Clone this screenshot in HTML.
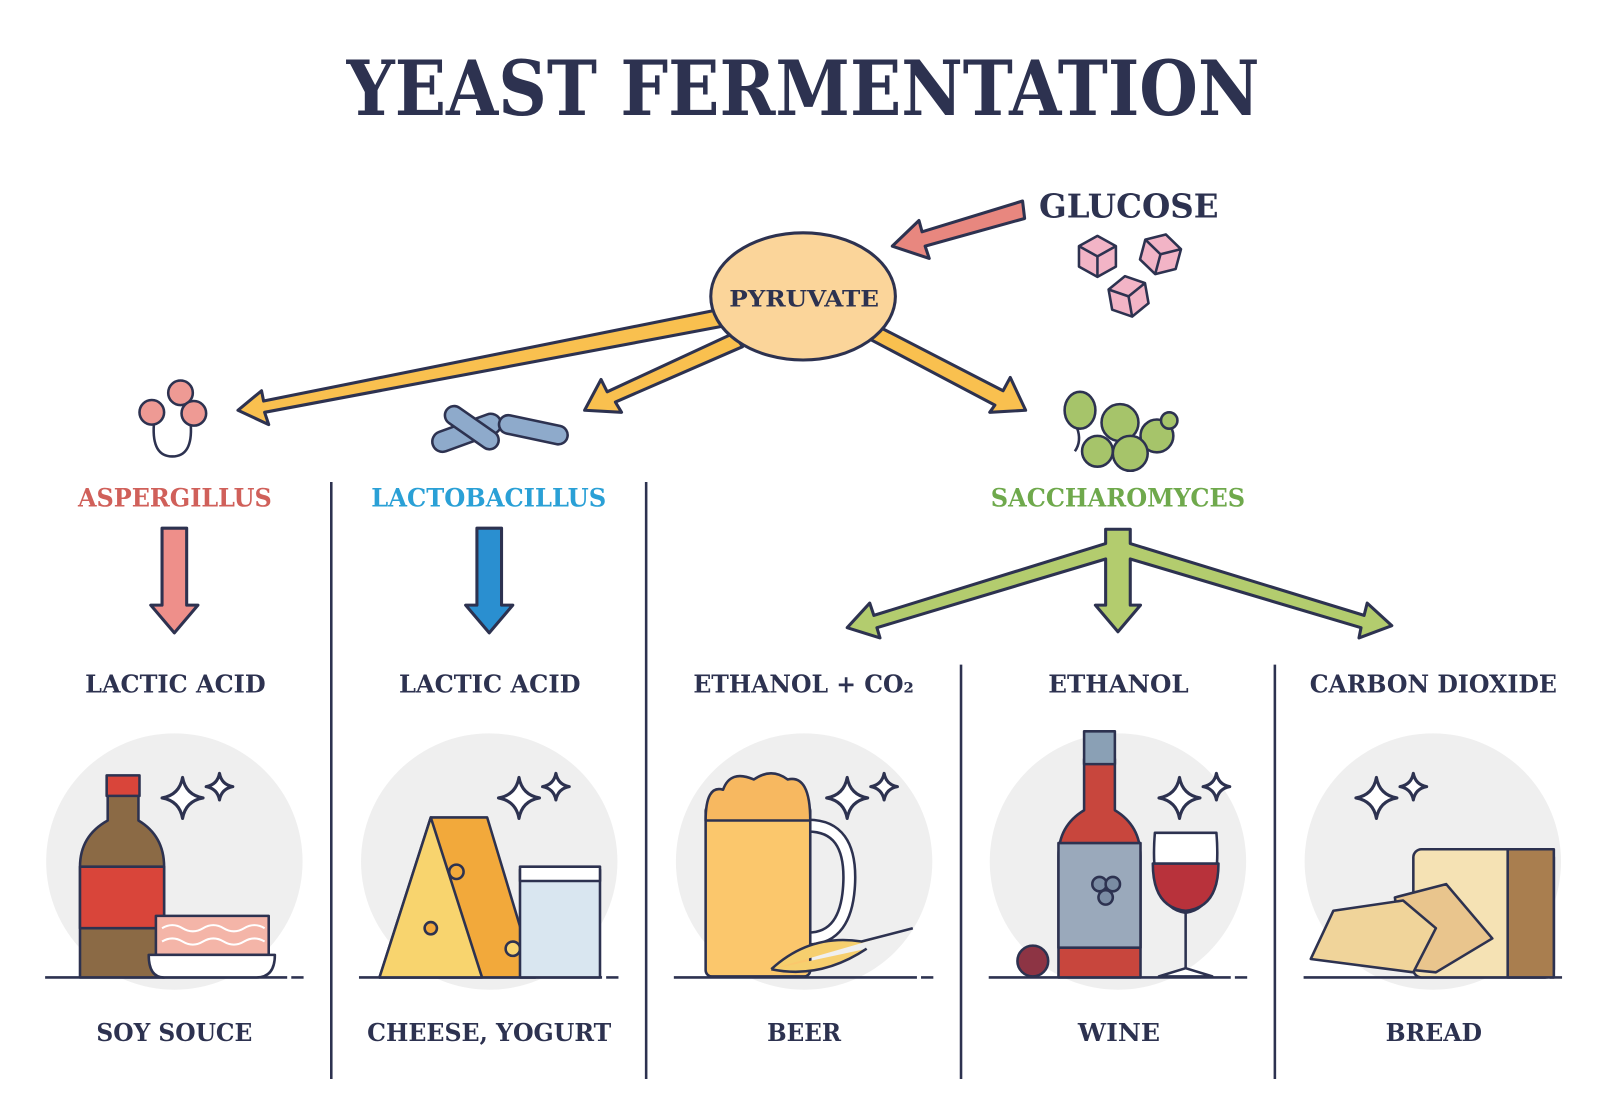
<!DOCTYPE html>
<html><head><meta charset="utf-8"><style>
html,body{margin:0;padding:0;background:#fff;}
svg{display:block;}
text{font-family:"DejaVu Serif","Liberation Serif",serif;font-weight:bold;fill:#2d3250;}
</style></head><body>
<svg width="1600" height="1120" viewBox="0 0 1560 1092" preserveAspectRatio="none" xmlns="http://www.w3.org/2000/svg">
<defs>
<g id="spark"><path d="M0,-20 Q3,-3 20,0 Q3,3 0,20 Q-3,3 -20,0 Q-3,-3 0,-20Z" fill="#fff" stroke="#2d3250" stroke-width="3" stroke-linejoin="round"/></g>
<g id="spark2"><path d="M0,-13 Q2,-2 13,0 Q2,2 0,13 Q-2,2 -13,0 Q-2,-2 0,-13Z" fill="#fff" stroke="#2d3250" stroke-width="3" stroke-linejoin="round"/></g>
</defs>
<rect width="1560" height="1092" fill="#fff"/>
<text x="338" y="112" font-size="74" textLength="890" lengthAdjust="spacingAndGlyphs">YEAST FERMENTATION</text>

<!-- dividers -->
<g stroke="#2d3250" stroke-width="2.5">
<line x1="323" y1="470" x2="323" y2="1052"/>
<line x1="630" y1="470" x2="630" y2="1052"/>
<line x1="937" y1="648" x2="937" y2="1052"/>
<line x1="1243" y1="648" x2="1243" y2="1052"/>
</g>

<!-- glucose arrow -->
<g stroke="#2d3250" stroke-width="3" stroke-linejoin="round">
<polygon points="997,196 999,213 902,240 906,252 870,240 896,215 899,226" fill="#e8877f"/>
</g>
<!-- pyruvate arrows -->
<g stroke="#2d3250" stroke-width="3" stroke-linejoin="round" fill="#f9c04f">
<polygon points="700,302 705,318 258,402 262,414 232,400 255,381 257,391"/>
<polygon points="715,325 724,338 600,392 606,402 570,400 586,370 592,382"/>
<polygon points="850,315 843,328 970,395 965,402 1000,400 985,368 978,381"/>
</g>
<ellipse cx="783" cy="289" rx="90" ry="62" fill="#fbd59a" stroke="#2d3250" stroke-width="3"/>
<text x="711" y="299" font-size="22" textLength="146" lengthAdjust="spacingAndGlyphs">PYRUVATE</text>
<text x="1013" y="212" font-size="32" textLength="175" lengthAdjust="spacingAndGlyphs">GLUCOSE</text>

<!-- cubes -->
<g stroke="#2d3250" stroke-width="2.5" stroke-linejoin="round">
<g transform="translate(1070,248)"><polygon points="-18,-8 0,-18 18,-8 18,12 0,22 -18,12" fill="#f2b4c6"/><polyline points="-18,-8 0,2 18,-8 M0,2" fill="none"/><line x1="0" y1="2" x2="0" y2="22"/></g>
<g transform="translate(1132,246) rotate(15)"><polygon points="-18,-8 0,-18 18,-8 18,12 0,22 -18,12" fill="#f2b4c6"/><polyline points="-18,-8 0,2 18,-8" fill="none"/><line x1="0" y1="2" x2="0" y2="22"/></g>
<g transform="translate(1100,287) rotate(-10)"><polygon points="-18,-8 0,-18 18,-8 18,12 0,22 -18,12" fill="#f2b4c6"/><polyline points="-18,-8 0,2 18,-8" fill="none"/><line x1="0" y1="2" x2="0" y2="22"/></g>
</g>

<!-- microbes -->
<g stroke="#2d3250" stroke-width="2.5">
<path d="M150,414 Q148,445 168,445 Q188,445 186,414" fill="none"/>
<circle cx="148" cy="402" r="12" fill="#ee9a94"/>
<circle cx="176" cy="383" r="12" fill="#ee9a94"/>
<circle cx="189" cy="403" r="12" fill="#ee9a94"/>
<rect x="420" y="412" width="70" height="20" rx="10" fill="#8eaacb" transform="rotate(-20 455 422)"/>
<rect x="430" y="408" width="60" height="18" rx="9" fill="#8eaacb" transform="rotate(35 460 417)"/>
<rect x="486" y="410" width="68" height="18" rx="9" fill="#8eaacb" transform="rotate(12 520 419)"/>
<ellipse cx="1053" cy="400" rx="15" ry="18" fill="#a6c46a"/>
<path d="M1050,417 Q1055,430 1048,440" fill="none"/>
<circle cx="1092" cy="412" r="18" fill="#a6c46a"/>
<circle cx="1128" cy="425" r="16" fill="#a6c46a"/>
<circle cx="1070" cy="440" r="15" fill="#a6c46a"/>
<circle cx="1102" cy="442" r="17" fill="#a6c46a"/>
<circle cx="1140" cy="410" r="8" fill="#a6c46a"/>
</g>

<text x="76" y="494" font-size="25" textLength="189" lengthAdjust="spacingAndGlyphs" style="fill:#d0605a">ASPERGILLUS</text>
<text x="362" y="494" font-size="25" textLength="229" lengthAdjust="spacingAndGlyphs" style="fill:#2aa0d6">LACTOBACILLUS</text>
<text x="966" y="494" font-size="25" textLength="248" lengthAdjust="spacingAndGlyphs" style="fill:#6fa94c">SACCHAROMYCES</text>

<!-- down arrows -->
<g stroke="#2d3250" stroke-width="3" stroke-linejoin="round">
<polygon points="158,515 182,515 182,590 193,590 170,617 147,590 158,590" fill="#ee8f8a"/>
<polygon points="465,515 489,515 489,590 500,590 477,617 454,590 465,590" fill="#2a8fd0"/>
</g>
<!-- green arrows -->
<g stroke="#2d3250" stroke-width="3" stroke-linejoin="round" fill="#b3cc6e">
<polygon points="1078,516 1102,516 1102,530 1330,600 1333,588 1357,610 1325,622 1327,612 1102,545 1102,590 1112,590 1090,616 1068,590 1078,590 1078,545 855,612 858,622 826,612 848,588 852,600 1078,530"/>
</g>

<g font-size="24">
<text x="83" y="675" font-size="24" textLength="176" lengthAdjust="spacingAndGlyphs">LACTIC ACID</text>
<text x="389" y="675" font-size="24" textLength="177" lengthAdjust="spacingAndGlyphs">LACTIC ACID</text>
<text x="676" y="675" font-size="24" textLength="215" lengthAdjust="spacingAndGlyphs">ETHANOL + CO₂</text>
<text x="1022" y="675" font-size="24" textLength="137" lengthAdjust="spacingAndGlyphs">ETHANOL</text>
<text x="1277" y="675" font-size="24" textLength="241" lengthAdjust="spacingAndGlyphs">CARBON DIOXIDE</text>
<text x="94" y="1015" font-size="24" textLength="152" lengthAdjust="spacingAndGlyphs">SOY SOUCE</text>
<text x="358" y="1015" font-size="24" textLength="238" lengthAdjust="spacingAndGlyphs">CHEESE, YOGURT</text>
<text x="748" y="1015" font-size="24" textLength="72" lengthAdjust="spacingAndGlyphs">BEER</text>
<text x="1051" y="1015" font-size="24" textLength="80" lengthAdjust="spacingAndGlyphs">WINE</text>
<text x="1351" y="1015" font-size="24" textLength="94" lengthAdjust="spacingAndGlyphs">BREAD</text>
</g>

<!-- circles -->
<g fill="#efefef">
<circle cx="170" cy="840" r="125"/><circle cx="477" cy="840" r="125"/><circle cx="784" cy="840" r="125"/><circle cx="1090" cy="840" r="125"/><circle cx="1397" cy="840" r="125"/>
</g>
<g stroke="#2d3250" stroke-width="2.5">
<line x1="44" y1="953" x2="280" y2="953"/><line x1="284" y1="953" x2="296" y2="953"/>
<line x1="350" y1="953" x2="587" y2="953"/><line x1="591" y1="953" x2="603" y2="953"/>
<line x1="657" y1="953" x2="894" y2="953"/><line x1="898" y1="953" x2="910" y2="953"/>
<line x1="964" y1="953" x2="1200" y2="953"/><line x1="1204" y1="953" x2="1216" y2="953"/>
<line x1="1271" y1="953" x2="1507" y2="953"/><line x1="1511" y1="953" x2="1523" y2="953"/>
</g>

<!-- sparkles -->
<use href="#spark" x="178" y="778"/><use href="#spark2" x="214" y="767"/>
<use href="#spark" x="506" y="778"/><use href="#spark2" x="542" y="767"/>
<use href="#spark" x="826" y="778"/><use href="#spark2" x="862" y="767"/>
<use href="#spark" x="1150" y="778"/><use href="#spark2" x="1186" y="767"/>
<use href="#spark" x="1342" y="778"/><use href="#spark2" x="1378" y="767"/>

<g stroke="#2d3250" stroke-width="2.5" stroke-linejoin="round">
<!-- soy -->
<path d="M105,775 L135,775 L135,800 Q160,815 160,845 L160,953 L78,953 L78,845 Q78,815 105,800Z" fill="#8b6a45"/>
<rect x="104" y="756" width="32" height="20" fill="#d9453a"/>
<rect x="78" y="845" width="82" height="60" fill="#d9453a"/>
<rect x="152" y="893" width="110" height="38" fill="#f4b5a8"/>
<path d="M158,905 q10,-6 20,0 t20,0 t20,0 t20,0 t20,0 M158,918 q10,-6 20,0 t20,0 t20,0 t20,0 t20,0" fill="none" stroke="#fff" stroke-width="2"/>
<path d="M145,931 L268,931 Q268,953 250,953 L160,953 Q145,953 145,931Z" fill="#fff"/>
<!-- cheese -->
<polygon points="370,953 420,797 475,797 522,953" fill="#f2a93b"/>
<polygon points="370,953 420,797 470,953" fill="#f8d46e"/>
<circle cx="445" cy="850" r="7" fill="#f2a93b"/><circle cx="420" cy="905" r="6" fill="#f2a93b"/><circle cx="500" cy="925" r="7" fill="#f8d46e"/>
<rect x="507" y="848" width="78" height="105" fill="#d9e6f0"/>
<rect x="507" y="845" width="78" height="14" fill="#fff"/>
<!-- beer -->
<path d="M788,805 Q830,805 828,860 Q826,915 788,915" fill="none" stroke-width="14"/>
<path d="M788,805 Q830,805 828,860 Q826,915 788,915" fill="none" stroke="#fff" stroke-width="9"/>
<rect x="688" y="785" width="102" height="167" rx="6" fill="#fbc76c"/>
<path d="M688,800 Q688,765 705,770 Q712,750 735,760 Q752,748 768,760 Q790,755 790,800Z" fill="#f7b860"/>
<path d="M752,945 Q790,910 840,918 L890,905 M752,945 Q800,955 845,925" fill="#f6cf6e"/>
<!-- wine -->
<path d="M1057,740 L1087,740 L1087,790 Q1112,805 1112,835 L1112,953 L1032,953 L1032,835 Q1032,805 1057,790Z" fill="#c8463d"/>
<rect x="1057" y="713" width="30" height="32" fill="#8aa0b5"/>
<rect x="1032" y="822" width="80" height="102" fill="#9aa9bb"/>
<circle cx="1072" cy="862" r="7" fill="#7a8ca3"/><circle cx="1085" cy="862" r="7" fill="#7a8ca3"/><circle cx="1078" cy="875" r="7" fill="#7a8ca3"/>
<path d="M1126,812 L1186,812 Q1192,885 1156,890 Q1120,885 1126,812Z" fill="#fff"/>
<path d="M1124,842 L1188,842 Q1188,885 1156,888 Q1124,885 1124,842Z" fill="#b8323b"/>
<line x1="1156" y1="890" x2="1156" y2="945"/><path d="M1130,952 L1182,952 L1156,944Z" fill="#fff"/>
<circle cx="1007" cy="937" r="15" fill="#8d3444"/>
<!-- bread -->
<rect x="1378" y="828" width="137" height="125" rx="8" fill="#f5e2b4"/>
<rect x="1470" y="828" width="45" height="125" fill="#a97e4f"/>
<polygon points="1360,875 1410,862 1455,915 1400,948 1370,945" fill="#e9c58d"/>
<polygon points="1300,888 1368,878 1400,905 1378,948 1278,935" fill="#f0d49a"/>
</g>
</svg>
</body></html>
